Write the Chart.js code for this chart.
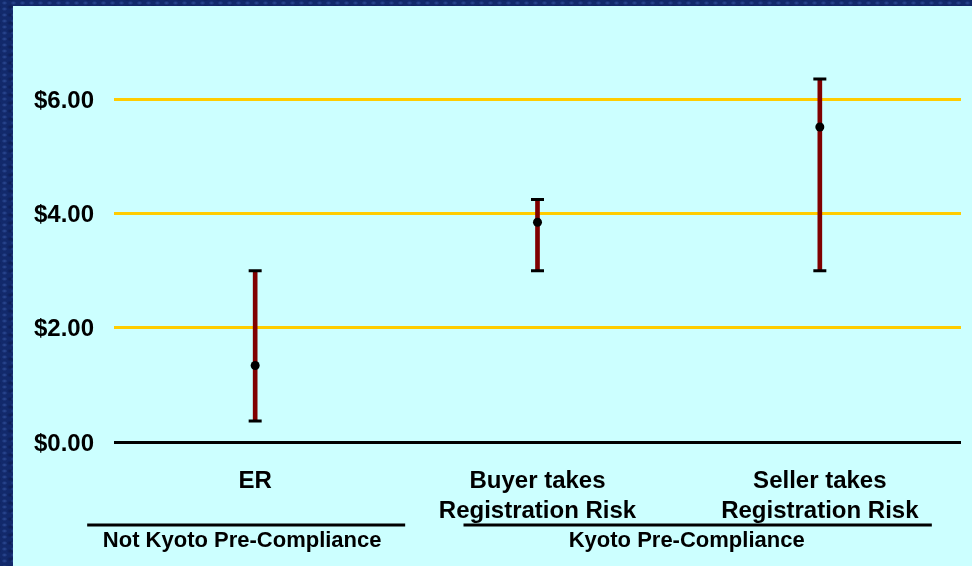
<!DOCTYPE html>
<html>
<head>
<meta charset="utf-8">
<script src="https://cdn.jsdelivr.net/npm/chart.js@4.4.1/dist/chart.umd.min.js"></script>
<style>
    body {
        margin: 0;
        width: 972px;
        height: 566px;
        overflow: hidden;
        background-color: #12296b;
        background-image:
            radial-gradient(ellipse at center, rgba(80, 120, 205, 0.45) 0, transparent 3px),
            radial-gradient(ellipse at center, rgba(5, 15, 60, 0.5) 0, transparent 4px);
        background-size: 9px 6px, 13px 8px;
        background-position: 0 0, 4px 3px;
    }
    #wrap {
        position: absolute;
        left: 13px;
        top: 6px;
        width: 959px;
        height: 560px;
        background: #ccffff;
    }
</style>
</head>
<body>
<div id="wrap">
    <canvas id="rangeChart" width="959" height="560"></canvas>
</div>
<script>
// Price ranges per contract type ($ per tonne)
const categories = [['ER'], ['Buyer takes', 'Registration Risk'], ['Seller takes', 'Registration Risk']];
const lowValues = [0.37, 3.00, 3.00];
const midValues = [1.34, 3.85, 5.52];
const highValues = [3.00, 4.25, 6.36];
const tickValues = [0, 2, 4, 6];

// Groups below the axis: label and which categories they cover
const groupLabels = ['Not Kyoto Pre-Compliance', 'Kyoto Pre-Compliance'];
const groupFirst = [0, 1];
const groupLast = [0, 2];

const FONT = '"Liberation Sans", Arial, sans-serif';

// Group labels with the rule above them
const groupPlugin = {
    id: 'groupLabels',
    afterDraw(chart) {
        const ctx = chart.ctx;
        const x = chart.scales.x;
        const lineY = 519;
        const textY = 535;
        ctx.save();
        ctx.strokeStyle = '#000';
        ctx.lineWidth = 3;
        ctx.fillStyle = '#000';
        ctx.font = 'bold 22px ' + FONT;
        ctx.textAlign = 'center';
        ctx.textBaseline = 'middle';
        groupLabels.forEach((label, i) => {
            const first = x.getPixelForValue(groupFirst[i]);
            const last = x.getPixelForValue(groupLast[i]);
            const left = i === 0 ? first - 168 : first - 74;
            const right = i === 0 ? last + 150 : last + 112;
            ctx.beginPath();
            ctx.moveTo(left, lineY);
            ctx.lineTo(right, lineY);
            ctx.stroke();
            const mid = i === 0 ? first - 13 : (first + last) / 2 + 8;
            ctx.fillText(label, mid, textY);
        });
        ctx.restore();
    }
};

const ctx = document.getElementById('rangeChart').getContext('2d');
const rangeChart = new Chart(ctx, {
    type: 'bar',
    data: {
        labels: categories,
        datasets: [
            {
                label: 'mid',
                type: 'line',
                data: midValues,
                showLine: false,
                pointRadius: 4.5,
                pointBackgroundColor: '#000',
                pointBorderWidth: 0,
                order: 0
            },
            {
                label: 'high cap',
                type: 'line',
                data: highValues,
                showLine: false,
                pointStyle: 'line',
                pointRadius: 6.5,
                pointBorderColor: '#000',
                pointBorderWidth: 3,
                order: 1
            },
            {
                label: 'low cap',
                type: 'line',
                data: lowValues,
                showLine: false,
                pointStyle: 'line',
                pointRadius: 6.5,
                pointBorderColor: '#000',
                pointBorderWidth: 3,
                order: 1
            },
            {
                label: 'range',
                data: lowValues.map((v, i) => [v, highValues[i]]),
                backgroundColor: '#800000',
                barThickness: 4,
                order: 2
            }
        ]
    },
    options: {
        responsive: false,
        animation: false,
        layout: {
            padding: { top: 36.5, right: 11, left: 0, bottom: 0 }
        },
        plugins: {
            legend: { display: false },
            tooltip: { enabled: false }
        },
        scales: {
            x: {
                grid: { display: false, drawTicks: false },
                border: { display: false },
                ticks: {
                    color: '#000',
                    font: { family: FONT, size: 24, weight: 'bold', lineHeight: 1.25 },
                    padding: 24,
                    maxRotation: 0,
                    autoSkip: false
                },
                afterFit: (scale) => { scale.height = 124; }
            },
            y: {
                min: 0,
                max: 7,
                afterBuildTicks: (scale) => {
                    scale.ticks = tickValues.map(v => ({ value: v }));
                },
                grid: {
                    drawTicks: false,
                    lineWidth: 3,
                    color: (c) => c.tick && c.tick.value === 0 ? '#000' : '#ffcc00'
                },
                border: { display: false },
                ticks: {
                    color: '#000',
                    font: { family: FONT, size: 24, weight: 'bold' },
                    padding: 20,
                    labelOffset: 2,
                    callback: (value) => '$' + Number(value).toFixed(2)
                },
                afterFit: (scale) => { scale.width = 101; }
            }
        }
    },
    plugins: [groupPlugin]
});
</script>
</body>
</html>
